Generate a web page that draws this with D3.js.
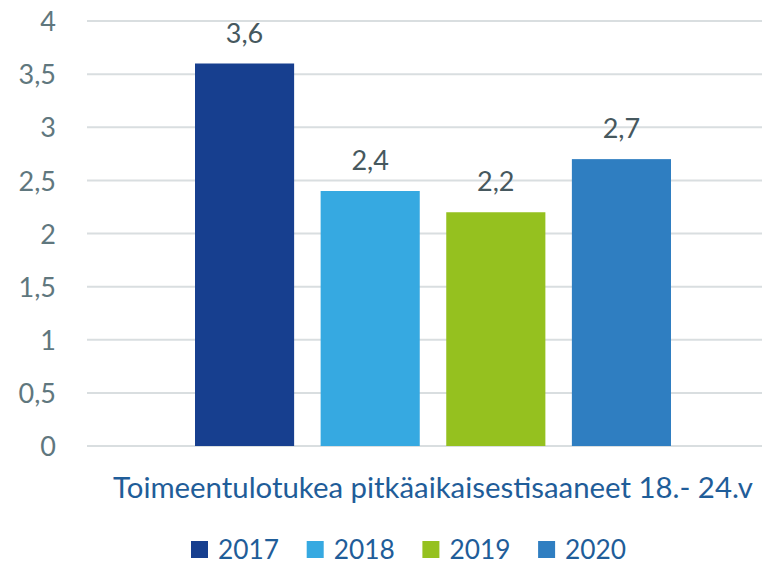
<!DOCTYPE html>
<html>
<head>
<meta charset="utf-8">
<script src="https://cdn.jsdelivr.net/npm/d3@7"></script>
<style>
  body { margin: 0; background: #fff; }
  text { font-family: Lato, "Open Sans", sans-serif; }
</style>
</head>
<body>
<div id="chart"></div>
<script>
const years = ["2017", "2018", "2019", "2020"];
const values = [3.6, 2.4, 2.2, 2.7];
const colors = ["#173F8F", "#36A9E1", "#95C11F", "#2F7EC1"];
const yTicks = [0, 0.5, 1, 1.5, 2, 2.5, 3, 3.5, 4];
const category = "Toimeentulotukea pitkäaikaisestisaaneet 18.- 24.v";

const width = 762, height = 564;
const fmt = v => String(v).replace(".", ",");

const svg = d3.select("#chart").append("svg")
    .attr("width", width)
    .attr("height", height);

// y scale
const y = d3.scaleLinear().domain([0, 4]).range([446, 21]);

// x scale for the bars
const x = d3.scaleBand()
    .domain(years)
    .range([195, 671])
    .paddingInner(0.211)
    .paddingOuter(0);

// gridlines
svg.append("g")
    .selectAll("line")
    .data(yTicks)
    .join("line")
        .attr("x1", 87)
        .attr("x2", width)
        .attr("y1", d => y(d))
        .attr("y2", d => y(d))
        .attr("stroke", "#d9dee0")
        .attr("stroke-width", 2);

// y axis labels
const yAxis = svg.append("g")
    .attr("transform", "translate(56,0)")
    .call(d3.axisLeft(y).tickValues(yTicks).tickFormat(fmt).tickSize(0).tickPadding(0));
yAxis.select(".domain").remove();
yAxis.selectAll("text")
    .attr("fill", "#5f777e")
    .style("font-size", "27px")
    .attr("dy", "0.36em");

// bars
svg.append("g")
    .selectAll("rect")
    .data(values)
    .join("rect")
        .attr("x", (d, i) => x(years[i]))
        .attr("y", d => y(d))
        .attr("width", x.bandwidth())
        .attr("height", d => y(0) - y(d))
        .attr("fill", (d, i) => colors[i]);

// value labels
svg.append("g")
    .selectAll("text")
    .data(values)
    .join("text")
        .attr("x", (d, i) => x(years[i]) + x.bandwidth() / 2)
        .attr("y", d => y(d) - 21)
        .attr("text-anchor", "middle")
        .attr("fill", "#46585e")
        .style("font-size", "27px")
        .text(fmt);

// category label
svg.append("text")
    .attr("x", 433)
    .attr("y", 498)
    .attr("text-anchor", "middle")
    .attr("fill", "#1f5d99")
    .style("font-size", "29px")
    .attr("textLength", 640)
    .attr("lengthAdjust", "spacingAndGlyphs")
    .text(category);

// legend
const legend = svg.append("g")
    .selectAll("g")
    .data(years)
    .join("g")
        .attr("transform", (d, i) => `translate(${191 + i * 115.7},0)`);
legend.append("rect")
    .attr("x", 0)
    .attr("y", 541)
    .attr("width", 17)
    .attr("height", 17)
    .attr("fill", (d, i) => colors[i]);
legend.append("text")
    .attr("x", 27)
    .attr("y", 559)
    .attr("fill", "#1f5d99")
    .style("font-size", "27px")
    .attr("textLength", 61)
    .attr("lengthAdjust", "spacingAndGlyphs")
    .text(d => d);
</script>
</body>
</html>
